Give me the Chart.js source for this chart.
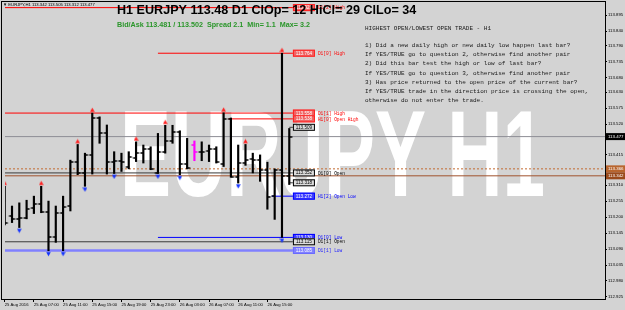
<!DOCTYPE html>
<html><head><meta charset="utf-8">
<script src="https://cdn.jsdelivr.net/npm/chart.js@4.4.1/dist/chart.umd.min.js"></script>
<style>html,body{margin:0;padding:0;background:#d3d3d3;overflow:hidden}canvas{display:block}</style>
</head><body><canvas id="c" width="625" height="310"></canvas>
<script>
// ---------- data ----------
const xTickBars = [0,4,8,12,16,20,24,28,32,36];
const xTickLabels = ['25 Aug 2016','25 Aug 07:00','25 Aug 11:00','25 Aug 15:00','25 Aug 19:00','25 Aug 23:00','26 Aug 03:00','26 Aug 07:00','26 Aug 11:00','26 Aug 15:00'];
const yTickValues = [113.895,113.840,113.790,113.735,113.680,113.630,113.575,113.520,113.470,113.415,113.360,113.310,113.255,113.200,113.145,113.090,113.035,112.980,112.925];

const opens  = [113.255,113.204,113.194,113.198,113.231,113.245,113.217,113.132,113.215,113.238,113.391,113.352,113.415,113.540,113.488,113.391,113.393,113.371,113.405,113.420,113.435,113.352,113.423,113.462,113.494,113.382,113.448,113.425,113.428,113.435,113.382,113.538,113.337,113.385,113.401,113.397,113.363,113.272,113.363,113.342];
const highs  = [113.306,113.238,113.249,113.258,113.272,113.306,113.255,113.238,113.272,113.396,113.450,113.420,113.558,113.545,113.517,113.425,113.420,113.425,113.459,113.448,113.442,113.488,113.516,113.516,113.497,113.471,113.462,113.459,113.448,113.442,113.559,113.541,113.448,113.450,113.420,113.414,113.389,113.366,113.764,113.505];
const lows   = [113.173,113.181,113.164,113.194,113.212,113.215,113.084,113.113,113.084,113.221,113.346,113.306,113.348,113.454,113.348,113.350,113.357,113.366,113.391,113.386,113.363,113.350,113.420,113.454,113.346,113.366,113.394,113.394,113.391,113.386,113.374,113.337,113.317,113.378,113.352,113.323,113.227,113.192,113.130,113.312];
const closes = [113.180,113.194,113.197,113.228,113.245,113.218,113.132,113.215,113.234,113.391,113.352,113.415,113.540,113.488,113.391,113.393,113.389,113.406,113.420,113.435,113.366,113.423,113.462,113.494,113.382,113.370,113.425,113.425,113.435,113.391,113.538,113.337,113.385,113.397,113.397,113.363,113.270,113.363,113.342,113.477];

const fractalUpBars   = [0,5,10,12,18,22,30,33,38];
const fractalDownBars = [2,6,8,11,15,21,24,32,38];
const signalBar = 26;

const levelPrices = [113.921,113.764,113.558,113.538,113.509,113.352,113.318,113.272,113.130,113.115,113.085];
const levelNames  = ['D1[2] High','D1[0] High','D1[1] High','H1[0] Open High','','D1[0] Open','','H1[2] Open Low','D1[0] Low','D1[1] Open','D1[1] Low'];

const priceLinePrices = [113.477,113.366,113.342];
const headerOHLC = [113.342,113.505,113.312,113.477];
const bidAsk = [113.481,113.502];
const spreadInfo = [2.1,1.1,3.2];
const dayStats = {ClOp:12, HiCl:29, ClLo:34};

const notes = [
 'HIGHEST OPEN/LOWEST OPEN TRADE - H1',
 '1) Did a new daily high or new daily low happen last bar?',
 'If YES/TRUE go to question 2, otherwise find another pair',
 '2) Did this bar test the high or low of last bar?',
 'If YES/TRUE go to question 3, otherwise find another pair',
 '3) Has price returned to the open price of the current bar?',
 'If YES/TRUE trade in the direction price is crossing the open,',
 'otherwise do not enter the trade.'
];

// ---------- styles / layout ----------
const X_MIN = 0.04, X_MAX = 82.27, Y_MIN = 112.918, Y_MAX = 113.930;
const LABEL_AT = 39.5;
const ST = {
  red:{line:'#ff0000', fill:'#f06464', border:'#ff2020', text:'#ffffff', name:'#ff0000', w:1},
  blk:{line:'#3a3a3a', fill:'#dcdcdc', border:'#000000', text:'#000000', name:'#000000', w:1},
  blu:{line:'#0000ff', fill:'#4040ff', border:'#0000ff', text:'#ffffff', name:'#0000ff', w:1},
  lbl:{line:'#8080ff', fill:'#8080ff', border:'#6a6aff', text:'#ffffff', name:'#2020ff', w:2.5}
};
const levelStyle = [
  {k:'red',from:X_MIN},{k:'red',from:21},{k:'red',from:X_MIN},{k:'red',from:30.7},
  {k:'blk',from:39},{k:'blk',from:X_MIN},{k:'blk',from:39},{k:'blu',from:36.6},
  {k:'blu',from:21},{k:'blk',from:X_MIN},{k:'lbl',from:X_MIN}
];
const priceLineStyle = [
  {c:'#8e8e96', dash:[], box:'#000000'},
  {c:'#c46a30', dash:[2,2], box:'#b8652e'},
  {c:'#a0522d', dash:[], box:'#9a4a1c'}
];

function mkTick(left, color){
  const c=document.createElement('canvas'); c.width=9; c.height=2;
  const g=c.getContext('2d'); g.fillStyle=color;
  g.fillRect(left?1.5:4.5,0.25,3,1.5); return c;
}
function mkArrow(up, color){
  const c=document.createElement('canvas'); c.width=5; c.height=12;
  const g=c.getContext('2d'); g.fillStyle=color; g.beginPath();
  if(up){ g.moveTo(2.5,0.5); g.lineTo(0.2,4.8); g.lineTo(4.8,4.8); }
  else { g.moveTo(0.2,7.2); g.lineTo(4.8,7.2); g.lineTo(2.5,11.5); }
  g.closePath(); g.fill(); return c;
}
const BAR_C='#000000', SIG_C='#ff00ff';
const tickOB=mkTick(true,BAR_C), tickCB=mkTick(false,BAR_C), tickOM=mkTick(true,SIG_C), tickCM=mkTick(false,SIG_C);
const upArrow=mkArrow(true,'#ff2020'), dnArrow=mkArrow(false,'#1030ff');

const datasets = [];
datasets.push({type:'scatter', order:0, data:fractalUpBars.map(i=>({x:i,y:highs[i]})), pointStyle:upArrow, pointRadius:2});
datasets.push({type:'scatter', order:0, data:fractalDownBars.map(i=>({x:i,y:lows[i]})), pointStyle:dnArrow, pointRadius:2});
datasets.push({type:'scatter', order:1, data:opens.map((v,i)=>({x:i,y:v})), pointStyle:c=>c.dataIndex===signalBar?tickOM:tickOB, pointRadius:1});
datasets.push({type:'scatter', order:1, data:closes.map((v,i)=>({x:i,y:v})), pointStyle:c=>c.dataIndex===signalBar?tickCM:tickCB, pointRadius:1});
datasets.push({type:'bar', order:2, data:highs.map((h,i)=>({x:i,y:[lows[i],h]})), backgroundColor:c=>c.dataIndex===signalBar?SIG_C:BAR_C, barThickness:1.5, borderWidth:0});
levelPrices.forEach((p,i)=>{
  const s=ST[levelStyle[i].k];
  datasets.push({type:'line', order:10, data:[{x:levelStyle[i].from,y:p},{x:LABEL_AT,y:p}], borderColor:s.line, borderWidth:s.w, pointRadius:0});
});
priceLinePrices.forEach((p,i)=>{
  datasets.push({type:'line', order:11, data:[{x:X_MIN,y:p},{x:X_MAX,y:p}], borderColor:priceLineStyle[i].c, borderDash:priceLineStyle[i].dash, borderWidth:1, pointRadius:0});
});

const deco = {
  id:'deco',
  beforeDraw(chart){
    const ctx=chart.ctx; ctx.save();
    ctx.fillStyle='#d3d3d3'; ctx.fillRect(0,0,chart.width,chart.height);
    // watermark
    ctx.font='bold 123px "Liberation Sans", Arial, sans-serif';
    const t='EURJPY H1'; const w=ctx.measureText(t).width;
    ctx.translate(120,196); ctx.scale(425/w,1);
    ctx.fillStyle='#ffffff'; ctx.textBaseline='alphabetic'; ctx.fillText(t,0,0);
    ctx.restore();
  },
  afterDatasetsDraw(chart){
    const ctx=chart.ctx, xs=chart.scales.x, ys=chart.scales.y;
    ctx.save();
    const bx=xs.getPixelForValue(LABEL_AT);
    levelPrices.forEach((p,i)=>{
      const s=ST[levelStyle[i].k]; const y=ys.getPixelForValue(p);
      ctx.fillStyle=s.fill; ctx.fillRect(bx,y-3.5,22,7);
      ctx.strokeStyle=s.border; ctx.lineWidth=1; ctx.strokeRect(bx+0.5,y-3,21,6);
      ctx.fillStyle=s.text; ctx.font='4.6px "Liberation Sans", Arial'; ctx.textAlign='center'; ctx.textBaseline='middle';
      ctx.fillText(p.toFixed(3),bx+11,y+0.3);
      if(levelNames[i]){
        ctx.fillStyle=s.name; ctx.font='4.5px "Liberation Mono", monospace'; ctx.textAlign='left';
        ctx.fillText(levelNames[i],bx+25,y+0.5);
      }
    });
    ctx.restore();
  },
  afterDraw(chart){
    const ctx=chart.ctx, ys=chart.scales.y;
    ctx.save();
    // frame
    ctx.strokeStyle='#000'; ctx.lineWidth=1; ctx.strokeRect(1.5,1.5,604,298);
    // axis price boxes
    priceLinePrices.forEach((p,i)=>{
      const y=ys.getPixelForValue(p);
      ctx.fillStyle=priceLineStyle[i].box; ctx.fillRect(606,y-3.5,19,7);
      ctx.fillStyle='#fff'; ctx.font='4.4px "Liberation Sans", Arial'; ctx.textAlign='left'; ctx.textBaseline='middle';
      ctx.fillText(p.toFixed(3),608,y+0.3);
    });
    // header
    ctx.fillStyle='#000'; ctx.font='4.2px "Liberation Sans", Arial'; ctx.textAlign='left'; ctx.textBaseline='middle';
    ctx.fillText('\u25BC EURJPY,H1 '+headerOHLC.map(v=>v.toFixed(3)).join(' '),3,5);
    // title
    ctx.font='bold 12.6px "Liberation Sans", Arial'; ctx.textBaseline='alphabetic'; ctx.fillStyle='#000';
    ctx.fillText('H1 EURJPY '+headerOHLC[3].toFixed(2)+' D1 ClOp= '+dayStats.ClOp+' HiCl= '+dayStats.HiCl+' ClLo= '+dayStats.ClLo,117,13.5);
    ctx.font='bold 7.2px "Liberation Sans", Arial'; ctx.fillStyle='#2a962a';
    ctx.fillText('Bid/Ask '+bidAsk[0].toFixed(3)+' / '+bidAsk[1].toFixed(3)+'  Spread '+spreadInfo[0]+'  Min= '+spreadInfo[1]+'  Max= '+spreadInfo[2],117,26.5);
    // notes
    ctx.font='6px "Liberation Mono", monospace'; ctx.fillStyle='#202020'; ctx.textBaseline='middle';
    const ly=[28,45.5,54.7,63.9,73.1,82.3,91.5,100.7];
    notes.forEach((s,i)=>ctx.fillText(s,365,ly[i]));
    ctx.restore();
  }
};

new Chart(document.getElementById('c'),{
  type:'scatter',
  data:{datasets},
  options:{
    responsive:false, animation:false, devicePixelRatio:1,
    layout:{padding:{left:2,top:2,right:0,bottom:0}},
    plugins:{legend:{display:false},tooltip:{enabled:false}},
    scales:{
      x:{type:'linear',position:'bottom',min:X_MIN,max:X_MAX,offset:false,
        afterBuildTicks:s=>{s.ticks=xTickBars.map(v=>({value:v}));},
        afterFit:s=>{s.height=11;},
        border:{display:false},
        grid:{display:true,drawOnChartArea:false,drawTicks:true,tickLength:3,color:'#000',offset:false},
        ticks:{autoSkip:false,maxRotation:0,minRotation:0,align:'start',padding:0,color:'#000',
          font:{size:4.2,family:'"Liberation Sans", Arial'},
          callback:v=>{const k=xTickBars.indexOf(v);return k>=0?xTickLabels[k]:'';}}
      },
      y:{type:'linear',position:'right',min:Y_MIN,max:Y_MAX,
        afterBuildTicks:s=>{s.ticks=yTickValues.map(v=>({value:v}));},
        afterFit:s=>{s.width=20;},
        border:{display:false},
        grid:{display:true,drawOnChartArea:false,drawTicks:true,tickLength:2,color:'#000'},
        ticks:{autoSkip:false,padding:1,color:'#000',font:{size:4.3,family:'"Liberation Sans", Arial'},
          callback:v=>Number(v).toFixed(3)}
      }
    }
  },
  plugins:[deco]
});
</script>
</body></html>
